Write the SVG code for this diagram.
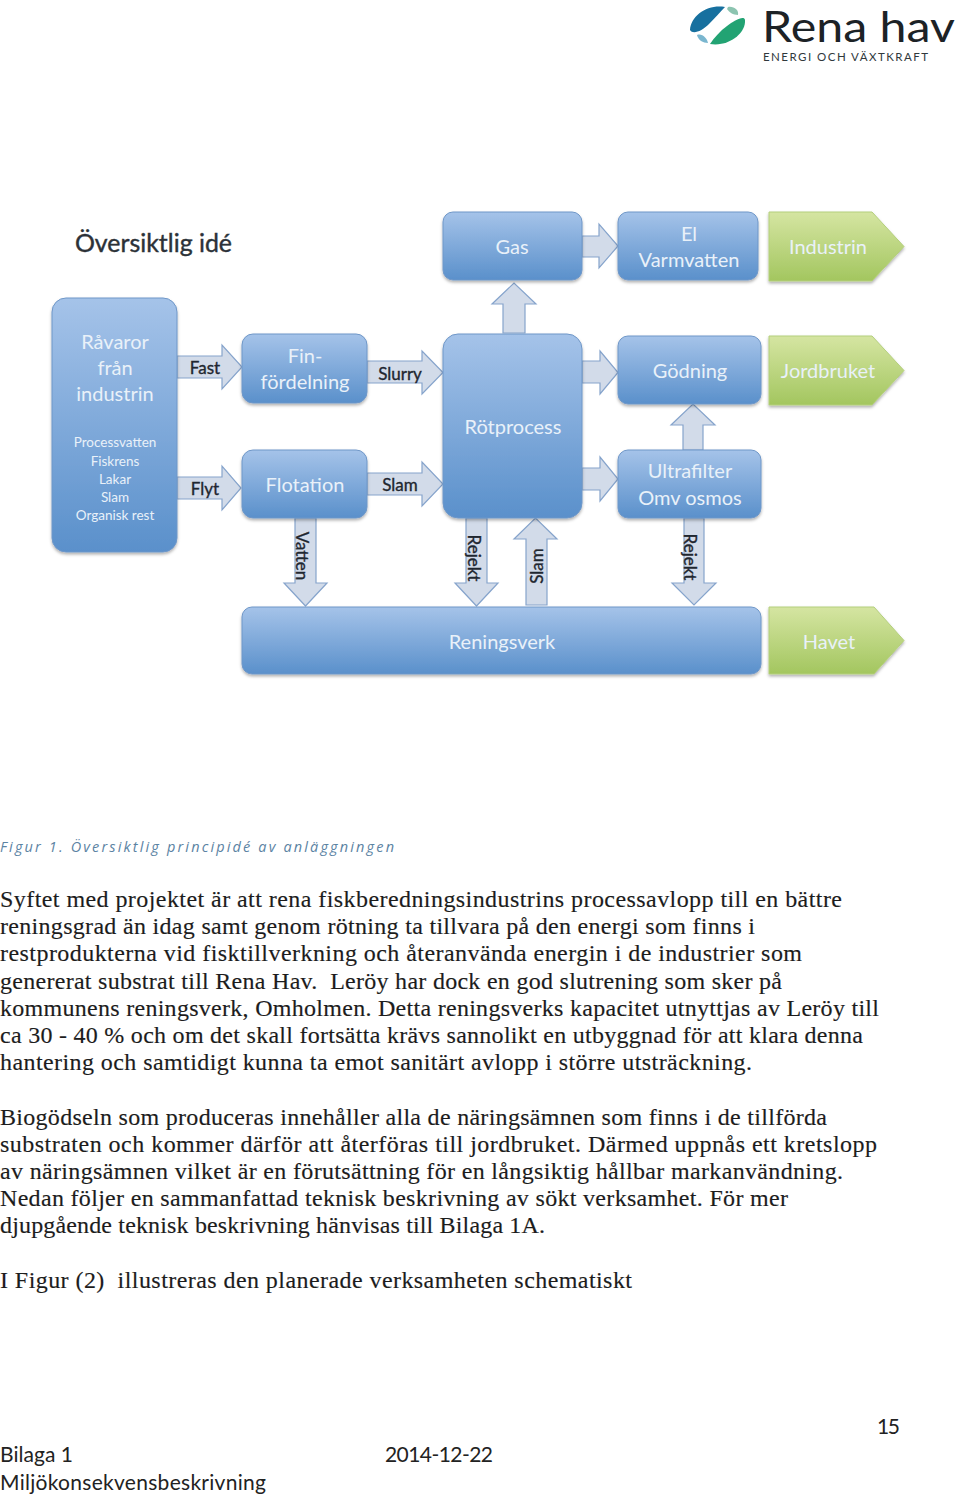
<svg xmlns="http://www.w3.org/2000/svg" width="960" height="1495" viewBox="0 0 960 1495">
<style>
.box{fill:url(#blue);stroke:#6f97c8;stroke-width:1;filter:url(#sh)}
.grn{fill:url(#green);stroke:#b4cf7c;stroke-width:1;filter:url(#sh)}
.arr{fill:#d2dbe9;stroke:#86a4cc;stroke-width:1.2}
.l{font-family:"Lato","Liberation Sans",sans-serif;font-size:20px;fill:#e9f1f9;text-anchor:middle}
.s{font-family:"Lato","Liberation Sans",sans-serif;font-size:13.500px;fill:#e9f1f9;text-anchor:middle}
.a{font-family:"Lato","Liberation Sans",sans-serif;font-size:17px;fill:#1f2730;stroke:#1f2730;stroke-width:.35;text-anchor:middle}
.b{font-family:"Liberation Serif",serif;font-size:24px;fill:#1c1c1c;stroke:#1c1c1c;stroke-width:.15;white-space:pre}
.f{font-family:"Lato","Liberation Sans",sans-serif;font-size:21px;fill:#222}
</style>
<defs>
<linearGradient id="blue" x1="0" y1="0" x2="0" y2="1"><stop offset="0" stop-color="#a5c3e9"/><stop offset="1" stop-color="#5a90cb"/></linearGradient>
<linearGradient id="green" x1="0" y1="0" x2="0" y2="1"><stop offset="0" stop-color="#d5e5a2"/><stop offset="1" stop-color="#a3c65f"/></linearGradient>
<filter id="sh" x="-10%" y="-10%" width="120%" height="125%"><feDropShadow dx="0" dy="2" stdDeviation="1.6" flood-color="#000" flood-opacity=".3"/></filter>
</defs>
<g id="logo">
<path d="M690 30C691 15 708 4 725 7C720 12 715 18 709 24C702 31 693 35 690 30Z" fill="#17709f"/>
<path d="M745 20C746 33 729 47 710 44C714 38 720 31 727 26C734 21 744 15 745 20Z" fill="#22a373"/>
<path d="M728 7C734 6 739 10 738 15C733 15 729 12 727 9Z" fill="#8cc4b0"/>
<path d="M697 35C702 33 707 38 708 43C703 43 698 40 697 35Z" fill="#7ab6cf"/>
<text x="762" y="42" font-family="Lato,'Liberation Sans',sans-serif" font-size="43" fill="#1c2226" textLength="193" lengthAdjust="spacingAndGlyphs">Rena hav</text>
<text x="763" y="61" font-family="Lato,'Liberation Sans',sans-serif" font-size="11.5" fill="#30383c" textLength="165" lengthAdjust="spacing">ENERGI OCH VÄXTKRAFT</text>
</g>
<text id="title" x="75" y="252" font-family="Lato,'Liberation Sans',sans-serif" font-size="25" fill="#2c3238" stroke="#2c3238" stroke-width=".4" textLength="157" lengthAdjust="spacingAndGlyphs">Översiktlig idé</text>
<g id="connectors">
<path class="arr" d="M177 356H222V345L242 367L222 389V378H177Z"/>
<path class="arr" d="M367 361H422V351L443 372.500L422 394V383H367Z"/>
<path class="arr" d="M177 477H222V466L241 488L222 510V499H177Z"/>
<path class="arr" d="M367 473H422V462L443 484L422 506V495H367Z"/>
<path class="arr" d="M582 236H599V224L618 246L599 268V257H582Z"/>
<path class="arr" d="M582 361H600V351L618 372.500L600 394V383H582Z"/>
<path class="arr" d="M582 468H600V457L618 479L600 501V490H582Z"/>
<path class="arr" d="M503 333V304H492L514 283L536 304H525V333Z"/>
<path class="arr" d="M683 450V425H671L693 404L715 425H703V450Z"/>
<path class="arr" d="M295 518V583H284L305.500 606L327 583H316V518Z"/>
<path class="arr" d="M466 518V583H455L476.500 606L498 583H487V518Z"/>
<path class="arr" d="M526 605V539H514L535.500 518L557 539H547V605Z"/>
<path class="arr" d="M684 518V583H672L694 605L716 583H704V518Z"/>
<text class="a" x="205" y="374">Fast</text>
<text class="a" x="400" y="380">Slurry</text>
<text class="a" x="205" y="495">Flyt</text>
<text class="a" x="400" y="491">Slam</text>
<text class="a" transform="translate(296 556) rotate(90)">Vatten</text>
<text class="a" transform="translate(468 558) rotate(90)">Rejekt</text>
<text class="a" transform="translate(543 566) rotate(-90)">Slam</text>
<text class="a" transform="translate(684 557) rotate(90)">Rejekt</text>
</g>
<g id="ravaror"><rect class="box" x="52" y="298" width="125" height="254" rx="14"/>
<text class="l" x="115" y="349">Råvaror</text><text class="l" x="115" y="375">från</text><text class="l" x="115" y="401">industrin</text>
<text class="s" x="115" y="447">Processvatten</text><text class="s" x="115" y="466">Fiskrens</text><text class="s" x="115" y="484">Lakar</text><text class="s" x="115" y="502">Slam</text><text class="s" x="115" y="520">Organisk rest</text></g>
<g id="fin"><rect class="box" x="242" y="334" width="125" height="69" rx="11"/><text class="l" x="305" y="363">Fin-</text><text class="l" x="305" y="389">fördelning</text></g>
<g id="flotation"><rect class="box" x="242" y="450" width="125" height="68" rx="11"/><text class="l" x="305" y="492">Flotation</text></g>
<g id="rotprocess"><rect class="box" x="443" y="334" width="139" height="184" rx="15"/><text class="l" x="513" y="434">Rötprocess</text></g>
<g id="gas"><rect class="box" x="443" y="212" width="139" height="68" rx="10"/><text class="l" x="512" y="254">Gas</text></g>
<g id="el"><rect class="box" x="618" y="212" width="140" height="68" rx="10"/><text class="l" x="689" y="241">El</text><text class="l" x="689" y="267">Varmvatten</text></g>
<g id="godning"><rect class="box" x="618" y="336" width="143" height="68" rx="10"/><text class="l" x="690" y="378">Gödning</text></g>
<g id="ultrafilter"><rect class="box" x="618" y="450" width="143" height="68" rx="10"/><text class="l" x="690" y="478">Ultrafilter</text><text class="l" x="690" y="505">Omv osmos</text></g>
<g id="reningsverk"><rect class="box" x="242" y="607" width="519" height="67" rx="10"/><text class="l" x="502" y="649">Reningsverk</text></g>
<g id="industrin"><path class="grn" d="M769 212H872L904 246.500L872 281H769Z"/><text class="l" x="828" y="254">Industrin</text></g>
<g id="jordbruket"><path class="grn" d="M769 336H872L904 370.500L872 405H769Z"/><text class="l" x="828" y="378">Jordbruket</text></g>
<g id="havet"><path class="grn" d="M769 607H874L904 640.500L874 674H769Z"/><text class="l" x="829" y="649">Havet</text></g>
<text id="caption" x="0" y="852" font-family="'Open Sans','Liberation Sans',sans-serif" font-style="italic" font-size="14.500" fill="#5b83a3" textLength="394" lengthAdjust="spacing">Figur 1. Översiktlig principidé av anläggningen</text>
<g id="body">
<text class="b" x="0" y="907" textLength="842">Syftet med projektet är att rena fiskberedningsindustrins processavlopp till en bättre</text>
<text class="b" x="0" y="934" textLength="755">reningsgrad än idag samt genom rötning ta tillvara på den energi som finns i</text>
<text class="b" x="0" y="961" textLength="802">restprodukterna vid fisktillverkning och återanvända energin i de industrier som</text>
<text class="b" x="0" y="989" textLength="782">genererat substrat till Rena Hav.  Leröy har dock en god slutrening som sker på</text>
<text class="b" x="0" y="1016" textLength="879">kommunens reningsverk, Omholmen. Detta reningsverks kapacitet utnyttjas av Leröy till</text>
<text class="b" x="0" y="1043" textLength="863">ca 30 - 40 % och om det skall fortsätta krävs sannolikt en utbyggnad för att klara denna</text>
<text class="b" x="0" y="1070" textLength="752">hantering och samtidigt kunna ta emot sanitärt avlopp i större utsträckning.</text>
<text class="b" x="0" y="1125" textLength="827">Biogödseln som produceras innehåller alla de näringsämnen som finns i de tillförda</text>
<text class="b" x="0" y="1152" textLength="877">substraten och kommer därför att återföras till jordbruket. Därmed uppnås ett kretslopp</text>
<text class="b" x="0" y="1179" textLength="843">av näringsämnen vilket är en förutsättning för en långsiktig hållbar markanvändning.</text>
<text class="b" x="0" y="1206" textLength="788">Nedan följer en sammanfattad teknisk beskrivning av sökt verksamhet. För mer</text>
<text class="b" x="0" y="1233" textLength="545">djupgående teknisk beskrivning hänvisas till Bilaga 1A.</text>
<text class="b" x="0" y="1288" textLength="632">I Figur (2)  illustreras den planerade verksamheten schematiskt</text>
</g>
<g id="footer">
<text class="f" x="877" y="1434" textLength="23">15</text>
<text class="f" x="0" y="1462" textLength="73">Bilaga 1</text>
<text class="f" x="385" y="1462" textLength="108">2014-12-22</text>
<text class="f" x="0" y="1490" textLength="266">Miljökonsekvensbeskrivning</text>
</g>
</svg>
